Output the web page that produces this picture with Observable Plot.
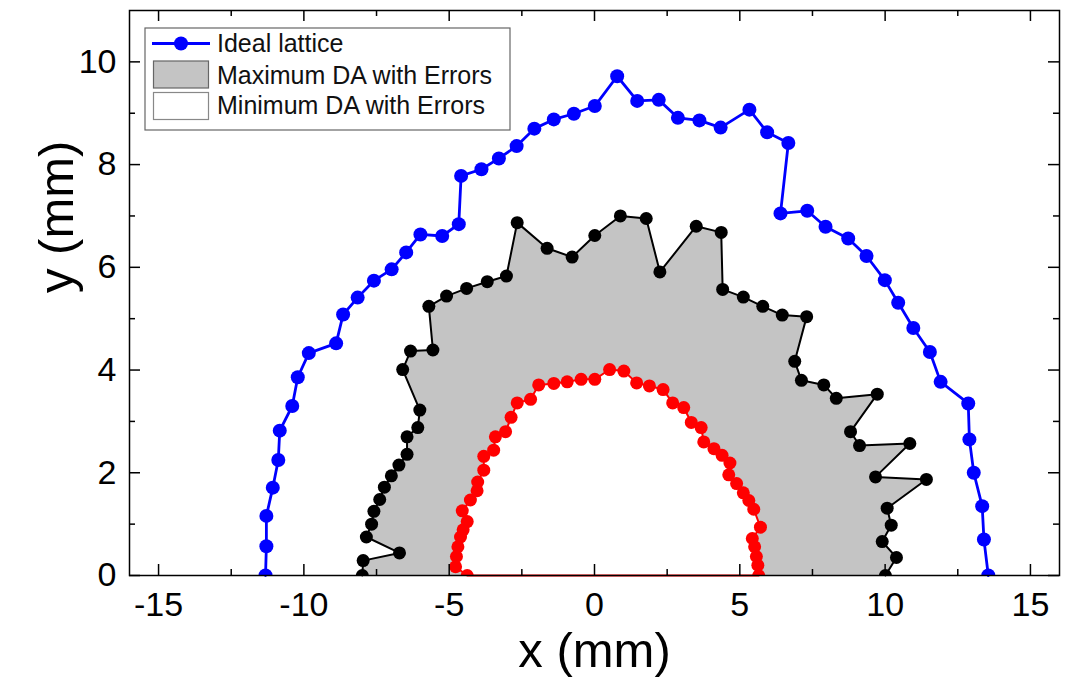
<!DOCTYPE html>
<html><head><meta charset="utf-8">
<script src="https://cdn.jsdelivr.net/npm/d3@7"></script>
<script src="https://cdn.jsdelivr.net/npm/@observablehq/plot@0.6"></script>
<style>body{margin:0;background:#fff;font-family:Arial,"Liberation Sans",sans-serif}</style>
</head><body><div id="chart"></div>
<script>
// Ideal lattice (blue)
const idealX = [-11.32,-11.29,-11.29,-11.07,-10.88,-10.83,-10.40,-10.21,-9.83,-8.89,-8.65,-8.15,-7.59,-6.98,-6.48,-5.99,-5.24,-4.67,-4.59,-3.89,-3.29,-2.68,-2.07,-1.40,-0.71,0.01,0.78,1.47,2.21,2.87,3.61,4.34,5.33,5.94,6.67,6.40,7.32,7.95,8.73,9.36,9.99,10.45,10.97,11.54,11.91,12.86,12.90,13.05,13.34,13.40,13.55];
const idealY = [0,0.57,1.16,1.71,2.25,2.82,3.30,3.86,4.33,4.52,5.08,5.41,5.74,5.96,6.29,6.64,6.61,6.84,7.78,7.91,8.12,8.36,8.70,8.88,8.99,9.14,9.72,9.24,9.26,8.91,8.86,8.72,9.07,8.63,8.42,7.05,7.10,6.79,6.56,6.22,5.75,5.31,4.82,4.35,3.77,3.35,2.65,2.00,1.35,0.70,0];
// Maximum DA with errors (black, grey fill)
const maxX = [-7.99,-7.96,-6.71,-7.85,-7.67,-7.59,-7.39,-7.23,-6.99,-6.73,-6.45,-6.45,-6.08,-6.01,-6.60,-6.33,-5.56,-5.70,-5.09,-4.40,-3.69,-3.03,-2.66,-1.63,-0.77,0.01,0.89,1.78,2.25,3.50,4.36,4.41,5.12,5.79,6.46,7.30,6.89,7.12,7.89,8.32,9.73,8.81,9.12,10.85,9.67,11.42,10.07,10.21,9.90,10.39,10.01];
const maxY = [0,0.29,0.44,0.75,1.00,1.25,1.48,1.72,1.94,2.15,2.36,2.70,2.88,3.22,4.01,4.37,4.39,5.24,5.44,5.59,5.72,5.83,6.87,6.37,6.20,6.62,7.00,6.95,5.91,6.80,6.68,5.57,5.42,5.24,5.07,5.04,4.17,3.80,3.71,3.45,3.53,2.80,2.53,2.57,1.92,1.87,1.31,0.98,0.66,0.35,0];
// Minimum DA with errors (red, white fill)
const minX = [-4.38,-4.78,-4.75,-4.70,-4.61,-4.52,-4.38,-4.55,-4.27,-4.04,-4.02,-3.81,-3.81,-3.47,-3.41,-3.06,-2.87,-2.66,-2.20,-1.92,-1.40,-0.94,-0.46,0.01,0.52,1.01,1.45,1.89,2.36,2.69,3.07,3.33,3.67,3.76,4.11,4.39,4.66,4.62,4.89,5.12,5.31,5.48,5.71,5.43,5.51,5.57,5.62,5.65];
const minY = [0,0.17,0.37,0.56,0.75,0.89,1.05,1.26,1.47,1.65,1.82,2.05,2.32,2.44,2.70,2.80,3.08,3.36,3.43,3.71,3.74,3.77,3.82,3.82,4.01,3.98,3.75,3.69,3.62,3.36,3.27,2.98,2.88,2.60,2.47,2.34,2.19,1.96,1.79,1.61,1.46,1.29,0.94,0.72,0.56,0.37,0.20,0];

const xMajor = [-15,-10,-5,0,5,10,15];
const xMinor = [-12.5,-7.5,-2.5,2.5,7.5,12.5];
const yMajor = [0,2,4,6,8,10];
const yMinor = [1,3,5,7,9];
const legendLabels = ["Ideal lattice","Maximum DA with Errors","Minimum DA with Errors"];

const ideal = idealX.map((x,i)=>({x, y: idealY[i]}));
const maxDA = maxX.map((x,i)=>({x, y: maxY[i]}));
const minDA = minX.map((x,i)=>({x, y: minY[i]}));

const W = 1073, H = 677, mL = 129, mR = 14, mT = 10, mB = 102;
const innerH = H - mT - mB, innerW = W - mL - mR;
const majL = 11, minL = 6;
const BLUE = "#0000ff", GREY = "#c4c4c4";
const FONT = 'Arial, "Liberation Sans", sans-serif';

const plot = Plot.plot({
  width: W, height: H,
  marginLeft: mL, marginRight: mR, marginTop: mT, marginBottom: mB,
  x: {domain: [-16, 16]},
  y: {domain: [0, 11]},
  style: {fontFamily: FONT, fontSize: "34px", background: "white", color: "#000"},
  marks: [
    Plot.line(maxDA, {x: "x", y: "y", fill: GREY, stroke: "none"}),
    Plot.line(minDA, {x: "x", y: "y", fill: "white", stroke: "none"}),
    Plot.line([...minDA, minDA[0]], {x: "x", y: "y", stroke: "red", strokeWidth: 2}),
    Plot.dot(minDA, {x: "x", y: "y", r: 6.5, fill: "red", stroke: "none", clip: true}),
    Plot.line(maxDA, {x: "x", y: "y", stroke: "black", strokeWidth: 2}),
    Plot.dot(maxDA, {x: "x", y: "y", r: 6.5, fill: "black", stroke: "none", clip: true}),
    Plot.line(ideal, {x: "x", y: "y", stroke: BLUE, strokeWidth: 2.8}),
    Plot.dot(ideal, {x: "x", y: "y", r: 7, fill: BLUE, stroke: "none", clip: true}),
    Plot.frame({stroke: "black", strokeWidth: 1.5}),
    // inward ticks on all four sides
    Plot.ruleX(xMajor, {x: d => d, insetTop: innerH - majL, strokeWidth: 1.5}),
    Plot.ruleX(xMinor, {x: d => d, insetTop: innerH - minL, strokeWidth: 1.5}),
    Plot.ruleX(xMajor, {x: d => d, insetBottom: innerH - majL, strokeWidth: 1.5}),
    Plot.ruleX(xMinor, {x: d => d, insetBottom: innerH - minL, strokeWidth: 1.5}),
    Plot.ruleY(yMajor, {y: d => d, insetRight: innerW - majL, strokeWidth: 1.5}),
    Plot.ruleY(yMinor, {y: d => d, insetRight: innerW - minL, strokeWidth: 1.5}),
    Plot.ruleY(yMajor, {y: d => d, insetLeft: innerW - majL, strokeWidth: 1.5}),
    Plot.ruleY(yMinor, {y: d => d, insetLeft: innerW - minL, strokeWidth: 1.5}),
    Plot.axisX(xMajor, {tickSize: 0, tickPadding: 16, fontSize: 34, tickFormat: d => String(d), label: null}),
    Plot.axisY(yMajor, {tickSize: 0, tickPadding: 13, fontSize: 34, tickFormat: d => String(d), label: null}),
    Plot.text(["x (mm)"], {text: d => d, frameAnchor: "bottom", dy: 91, fontSize: 49}),
    Plot.text(["y (mm)"], {text: d => d, frameAnchor: "left", rotate: -90, dx: -72, fontSize: 49})
  ]
});

// Legend (drawn inside the SVG, top-left of the frame)
const svg = d3.select(plot);
const lg = svg.append("g").attr("font-family", FONT).attr("font-size", 25).attr("text-anchor", "start");
lg.append("rect").attr("x", 145).attr("y", 28).attr("width", 365).attr("height", 102)
  .attr("fill", "white").attr("stroke", "#666").attr("stroke-width", 1.2);
lg.append("line").attr("x1", 152).attr("x2", 210).attr("y1", 43.5).attr("y2", 43.5)
  .attr("stroke", BLUE).attr("stroke-width", 2.8);
lg.append("circle").attr("cx", 181).attr("cy", 43.5).attr("r", 7).attr("fill", BLUE);
lg.append("rect").attr("x", 153.5).attr("y", 61).attr("width", 55).attr("height", 27)
  .attr("fill", GREY).attr("stroke", "#666").attr("stroke-width", 1.2);
lg.append("rect").attr("x", 153.5).attr("y", 92.5).attr("width", 55).attr("height", 27)
  .attr("fill", "white").attr("stroke", "#888").attr("stroke-width", 1.2);
const baselines = [52, 83.5, 113.5];
legendLabels.forEach((t, i) => {
  lg.append("text").attr("x", 217).attr("y", baselines[i]).attr("text-anchor", "start")
    .attr("fill", "#111").text(t);
});

document.getElementById("chart").appendChild(plot);
</script>
</body></html>
